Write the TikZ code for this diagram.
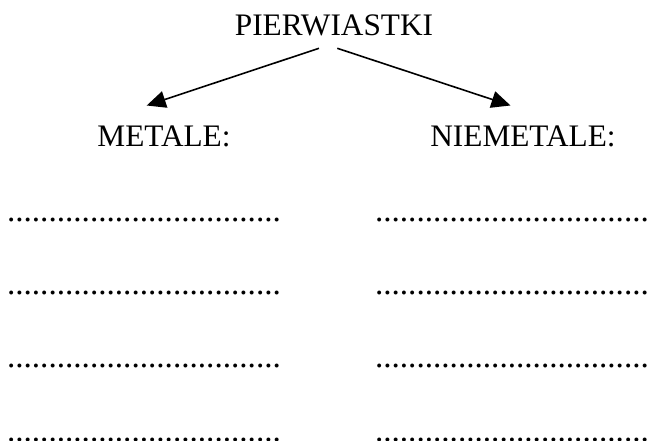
\documentclass[tikz,border=0pt]{standalone}
\usepackage{fontspec}
\setmainfont{Liberation Serif}
\usetikzlibrary{arrows.meta}
\tikzset{
  lbl/.style={inner sep=0pt, outer sep=0pt, font=\fontsize{31.3}{36}\selectfont, anchor=base},
  dotrow/.style={inner sep=0pt, outer sep=0pt, font=\fontsize{33.2}{36}\selectfont, anchor=base west},
  conn/.style={line width=1.6pt, -{Triangle[length=19pt,width=17pt]}}
}
\begin{document}
\begin{tikzpicture}[x=1pt,y=1pt]
\useasboundingbox (0,0) rectangle (647,-441);
\node[lbl] (top) at (334,-36) {PIERWIASTKI};
\node[lbl] (met) at (164,-146) {METALE:};
\node[lbl] (niemet) at (523,-146) {NIEMETALE:};
\coordinate (ls) at (319,-48.3);
\coordinate (rs) at (337.3,-48.3);
\coordinate (lt) at (146.7,-105.5);
\coordinate (rt) at (510.5,-105.5);
\draw[conn] (ls) -- (lt);
\draw[conn] (rs) -- (rt);
\foreach \i/\y in {1/-221,2/-294.3,3/-367.7,4/-441} {
  \node[dotrow] (l\i) at (7,\y) {.................................};
  \node[dotrow] (r\i) at (375,\y) {.................................};
}
\end{tikzpicture}
\end{document}
